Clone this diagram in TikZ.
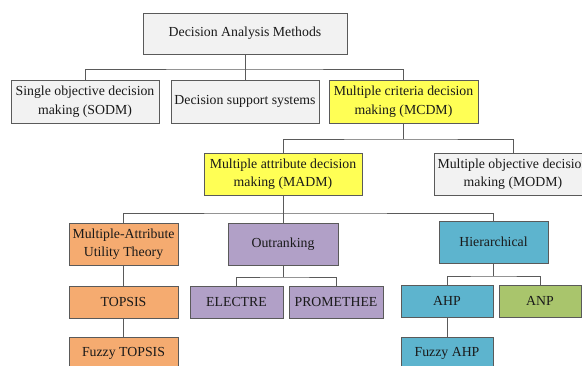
\documentclass[tikz,border=0pt]{standalone}
\usepackage{fontspec}
\setmainfont{Liberation Serif}
\definecolor{boxgray}{HTML}{F2F2F2}
\definecolor{boxyellow}{HTML}{FFFF55}
\definecolor{boxorange}{HTML}{F5AB70}
\definecolor{boxpurple}{HTML}{B1A0C7}
\definecolor{boxblue}{HTML}{5DB4CE}
\definecolor{boxgreen}{HTML}{A9C56C}
\definecolor{edgegray}{HTML}{5A5A5A}
\tikzset{
  box/.style={draw=edgegray, line width=0.9pt, rectangle, align=center,
    inner sep=0pt, font=\fontsize{13.8}{18.5}\selectfont, text=black!90},
  link/.style={draw=edgegray, line width=0.9pt},
}
\begin{document}
\begin{tikzpicture}[x=1pt, y=-1pt]
\useasboundingbox (0,0) rectangle (582,365);
\begin{scope}
\clip (0,0) rectangle (582,365);

% level 0
\node[box, fill=boxgray, minimum width=204pt, minimum height=41pt] (top) at (245,33.5) {Decision Analysis Methods};

% level 1
\node[box, fill=boxgray, minimum width=148pt, minimum height=43pt] (sodm) at (85,101.5) {Single objective decision\\making (SODM)};
\node[box, fill=boxgray, minimum width=148pt, minimum height=43pt] (dss) at (245,101.5) {Decision support systems};
\node[box, fill=boxyellow, minimum width=149pt, minimum height=43pt] (mcdm) at (403.5,101.5) {Multiple criteria decision\\making (MCDM)};

% level 2
\node[box, fill=boxyellow, minimum width=158pt, minimum height=42pt] (madm) at (283,174) {Multiple attribute decision\\making (MADM)};
\node[box, fill=boxgray, minimum width=158pt, minimum height=42pt] (modm) at (513,174) {Multiple objective decision\\making (MODM)};

% level 3
\node[box, fill=boxorange, minimum width=109pt, minimum height=42pt] (maut) at (123.5,244) {Multiple-Attribute\\Utility Theory};
\node[box, fill=boxpurple, minimum width=110pt, minimum height=42pt] (outr) at (283,244) {Outranking};
\node[box, fill=boxblue, minimum width=109pt, minimum height=42pt] (hier) at (493.5,242) {Hierarchical};

% level 4
\node[box, fill=boxorange, minimum width=109pt, minimum height=32pt] (topsis) at (123.5,302) {TOPSIS};
\node[box, fill=boxpurple, minimum width=93pt, minimum height=32pt] (electre) at (236.5,302) {ELECTRE};
\node[box, fill=boxpurple, minimum width=94pt, minimum height=32pt] (prom) at (336,302) {PROMETHEE};
\node[box, fill=boxblue, minimum width=92pt, minimum height=32pt] (ahp) at (447,301) {AHP};
\node[box, fill=boxgreen, minimum width=82pt, minimum height=32pt] (anp) at (540,301) {ANP};

% level 5
\node[box, fill=boxorange, minimum width=109pt, minimum height=32pt] (ftopsis) at (123.5,353) {Fuzzy TOPSIS};
\node[box, fill=boxblue, minimum width=92pt, minimum height=32pt] (fahp) at (447,353) {Fuzzy AHP};

% bus junctions
\coordinate (j0) at (245,69);
\coordinate (j1) at (403.5,139);
\coordinate (j2) at (283,213);
\coordinate (j3) at (283,277);
\coordinate (j4) at (493.5,276);

% connectors
\draw[link] (top.south) -- (j0);
\draw[link] (sodm.north) |- (j0) -| (mcdm.north);
\draw[link] (j0) -- (dss.north);

\draw[link] (mcdm.south) -- (j1);
\draw[link] (madm.north) |- (j1) -| (modm.north);

\draw[link] (madm.south) -- (j2);
\draw[link] (maut.north) |- (j2) -| (hier.north);
\draw[link] (j2) -- (outr.north);

\draw[link] (outr.south) -- (j3);
\draw[link] (electre.north) |- (j3) -| (prom.north);

\draw[link] (hier.south) -- (j4);
\draw[link] (ahp.north) |- (j4) -| (anp.north);

\draw[link] (maut.south) -- (topsis.north);
\draw[link] (topsis.south) -- (ftopsis.north);
\draw[link] (ahp.south) -- (fahp.north);
\end{scope}
\end{tikzpicture}
\end{document}
